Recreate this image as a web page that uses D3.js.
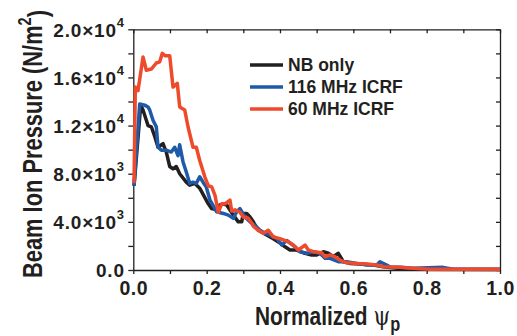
<!DOCTYPE html>
<html>
<head>
<meta charset="utf-8">
<script src="https://cdn.jsdelivr.net/npm/d3@7"></script>
<style>
  body { margin: 0; background: #fff; }
  svg { display: block; }
</style>
</head>
<body>
<div id="chart"></div>
<script>
// values: [normalized psi_p, pressure N/m^2]
const nbOnly = [
  [0.002,7000],[0.0202,13700],[0.0265,13300],[0.0401,12000],[0.0491,11900],[0.0584,11100],
  [0.0674,10200],[0.081,10500],[0.09,9800],[0.0993,8600],[0.1083,8400],[0.1173,8600],
  [0.1265,8000],[0.1445,7300],[0.1538,7050],[0.1674,7200],[0.1811,6800],[0.1955,6000],
  [0.2045,5500],[0.2138,5100],[0.2274,5000],[0.2364,5400],[0.2454,5500],[0.2547,5400],
  [0.2727,4560],[0.2863,4000],[0.2956,4000],[0.3,4700],[0.3093,4700],[0.3182,4400],
  [0.3272,4000],[0.3409,3300],[0.3638,2900],[0.3818,2600],[0.4001,2250],[0.4137,1930],
  [0.4273,1660],[0.4456,1660],[0.4682,1390],[0.4865,1250],[0.5001,1250],[0.5181,1520],
  [0.5318,1390],[0.5454,1100],[0.5591,1390],[0.5727,690],[0.591,550],[0.6182,500],
  [0.6545,415],[0.6818,275],[0.72,150],[0.78,60],[1.0,40]
];
const icrf116 = [
  [0.002,7000],[0.0175,13800],[0.0311,13700],[0.0401,13550],[0.0447,13300],[0.0537,12450],
  [0.0627,11900],[0.0674,10200],[0.0764,9960],[0.09,9960],[0.1036,9800],[0.1129,10200],
  [0.1219,9500],[0.1265,10400],[0.1355,9000],[0.1445,8150],[0.1538,7200],[0.1628,7300],
  [0.1718,7200],[0.1811,7750],[0.1901,7300],[0.1991,6900],[0.2092,5800],[0.2274,4840],
  [0.2454,4700],[0.2591,4560],[0.2727,4290],[0.282,4840],[0.291,5100],[0.3046,4400],
  [0.3182,4000],[0.3319,3700],[0.3455,3300],[0.3592,3050],[0.3728,2900],[0.391,2630],
  [0.4047,2075],[0.4183,2450],[0.4227,2350],[0.441,1930],[0.4546,1520],[0.4729,1390],
  [0.4909,1520],[0.5091,1390],[0.5228,970],[0.5364,970],[0.5591,690],[0.5819,690],
  [0.6092,550],[0.6365,415],[0.6638,415],[0.6727,690],[0.691,415],[0.7,250],[0.7273,220],
  [0.7627,140],[0.8446,220],[0.8718,60],[1.0,60]
];
const icrf60 = [
  [0.002,7200],[0.0055,15200],[0.0128,14900],[0.0265,17700],[0.0355,16600],[0.0491,16700],
  [0.0627,17200],[0.072,17300],[0.0791,18000],[0.0873,17800],[0.0993,17800],[0.1083,15200],
  [0.12,15500],[0.1265,13550],[0.1402,13300],[0.1492,11900],[0.1628,10200],[0.1718,10200],
  [0.1811,9100],[0.1955,7700],[0.2045,7000],[0.2138,6900],[0.2228,6200],[0.2318,4800],
  [0.2411,5500],[0.2501,5500],[0.2637,5800],[0.2683,4900],[0.2773,5000],[0.291,4800],
  [0.3,4400],[0.3136,4300],[0.3229,3900],[0.3272,3650],[0.3409,3300],[0.3545,3050],
  [0.3682,3300],[0.3818,2750],[0.4001,2600],[0.4183,2400],[0.4363,2075],[0.45,1660],
  [0.4682,2075],[0.4772,1660],[0.4909,1520],[0.5137,1440],[0.5228,1100],[0.5364,1250],
  [0.55,1100],[0.5637,830],[0.5819,600],[0.6092,550],[0.6365,500],[0.6638,415],
  [0.6818,275],[0.7,250],[0.7273,220],[0.7627,140],[0.8091,60],[1.0,60]
];

const seriesNames = ["NB only", "116 MHz ICRF", "60 MHz ICRF"];
const seriesColors = ["#231f20", "#1f5aa8", "#ee4a2b"];
const series = [nbOnly, icrf116, icrf60];

const xTicks = [0, 0.1, 0.2, 0.3, 0.4, 0.5, 0.6, 0.7, 0.8, 0.9, 1.0];
const xTickLabels = ["0.0", "", "0.2", "", "0.4", "", "0.6", "", "0.8", "", "1.0"];
const yTicks = [0, 2000, 4000, 6000, 8000, 10000, 12000, 14000, 16000, 18000, 20000];
// [mantissa, exponent] for labelled ticks
const yTickLabels = {0: ["0.0", null], 4000: ["4.0", "3"], 8000: ["8.0", "3"],
  12000: ["1.2", "4"], 16000: ["1.6", "4"], 20000: ["2.0", "4"]};

const W = 517, H = 336;
const plotL = 133.3, plotR = 500, plotT = 29.3, plotB = 270;
const ink = "#231f20";
const font = "'Liberation Sans', Arial, sans-serif";

const svg = d3.select("#chart").append("svg")
  .attr("width", W).attr("height", H);

const x = d3.scaleLinear().domain([0, 1]).range([plotL, plotR]);
const y = d3.scaleLinear().domain([0, 20000]).range([plotB, plotT]);

function styleAxis(g) {
  g.select(".domain").attr("stroke", ink).attr("stroke-width", 1.3);
  g.selectAll(".tick line").attr("stroke", ink).attr("stroke-width", 1.3);
  g.selectAll("text").attr("fill", ink).attr("font-family", font).attr("font-weight", "bold");
}

// frame: top and right with inward ticks, no labels
svg.append("g").attr("transform", `translate(0,${plotT})`)
  .call(d3.axisTop(x).tickValues(xTicks).tickSizeInner(-4).tickSizeOuter(0).tickFormat(""))
  .call(styleAxis);
svg.append("g").attr("transform", `translate(${plotR},0)`)
  .call(d3.axisRight(y).tickValues(yTicks).tickSizeInner(-4).tickSizeOuter(0).tickFormat(""))
  .call(styleAxis);

// bottom axis
svg.append("g").attr("transform", `translate(0,${plotB})`)
  .call(d3.axisBottom(x).tickValues(xTicks).tickSizeInner(4).tickSizeOuter(0).tickPadding(7)
    .tickFormat((d, i) => xTickLabels[i]))
  .call(styleAxis)
  .selectAll("text").attr("font-size", 19.5).attr("letter-spacing", 0.5);

// left axis with x10^n labels
const yAxisG = svg.append("g").attr("transform", `translate(${plotL},0)`)
  .call(d3.axisLeft(y).tickValues(yTicks).tickSizeInner(5).tickSizeOuter(0).tickPadding(3.5)
    .tickFormat(""))
  .call(styleAxis);

yAxisG.selectAll(".tick").each(function(d) {
  const lab = yTickLabels[d];
  if (!lab) return;
  const t = d3.select(this).select("text")
    .attr("font-size", 19).attr("letter-spacing", 0.8).attr("dy", "0.36em").text(null);
  if (lab[1] === null) {
    t.text(lab[0]);
  } else {
    t.append("tspan").text(lab[0] + "\u00d710");
    t.append("tspan").attr("font-size", 13).attr("dy", "-0.75em").text(lab[1]);
  }
});

// curves
const line = d3.line().x(d => x(d[0])).y(d => y(d[1]));
svg.append("g").selectAll("path")
  .data(series)
  .join("path")
  .attr("d", line)
  .attr("fill", "none")
  .attr("stroke", (d, i) => seriesColors[i])
  .attr("stroke-width", 3.5)
  .attr("stroke-linejoin", "round");

// legend
const legend = svg.append("g").attr("transform", "translate(250,65)");
const rows = legend.selectAll("g").data(seriesNames).join("g")
  .attr("transform", (d, i) => `translate(0,${i * 22})`);
rows.append("line").attr("x1", 0).attr("x2", 33)
  .attr("stroke", (d, i) => seriesColors[i]).attr("stroke-width", 3.5);
rows.append("text").attr("x", 38).attr("dy", "0.36em")
  .attr("font-family", font).attr("font-weight", "bold").attr("font-size", 17.5)
  .attr("fill", ink).text(d => d);

// axis titles (condensed bold look via horizontal squeeze)
const yTitle = svg.append("text")
  .attr("transform", "translate(42,144) rotate(-90) scale(0.81,1)")
  .attr("text-anchor", "middle")
  .attr("font-family", font).attr("font-weight", "bold").attr("font-size", 27)
  .attr("fill", ink);
yTitle.append("tspan").text("Beam Ion Pressure (N/m");
yTitle.append("tspan").attr("font-size", 18).attr("dy", "-0.6em").text("2");
yTitle.append("tspan").attr("dy", "0.6em").text(")");

const xTitle = svg.append("text")
  .attr("transform", "translate(255,325) scale(0.82,1)")
  .attr("font-family", font).attr("font-weight", "bold").attr("font-size", 25.5)
  .attr("fill", ink);
xTitle.append("tspan").text("Normalized ");
xTitle.append("tspan").attr("font-family", "'DejaVu Serif', serif").attr("font-weight", "normal")
  .attr("font-size", 26).text("\u03c8");
xTitle.append("tspan").attr("font-size", 20).attr("dy", 6).text("p");
</script>
</body>
</html>
